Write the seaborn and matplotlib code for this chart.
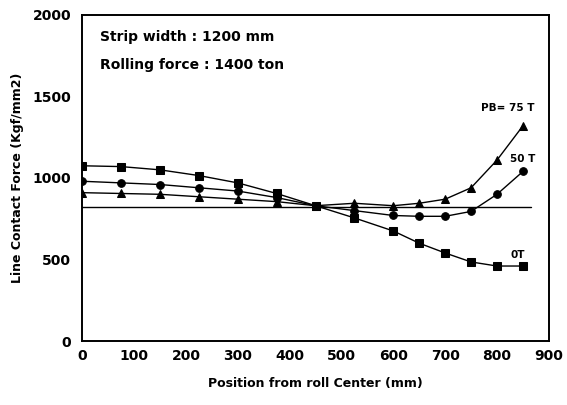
import matplotlib
matplotlib.use("Agg")
import matplotlib.pyplot as plt
import pandas as pd
import seaborn as sns

# position from roll center [mm]
position = [0, 75, 150, 225, 300, 375, 450, 525, 600, 650, 700, 750, 800, 850]
# line contact force [kgf/mm] for each bending force
pb_0t = [1075, 1070, 1050, 1015, 970, 905, 830, 755, 675, 600, 540, 485, 460, 460]
pb_50t = [980, 970, 960, 940, 920, 880, 830, 800, 770, 765, 765, 795, 900, 1040]
pb_75t = [910, 905, 900, 885, 870, 855, 830, 845, 830, 845, 870, 940, 1110, 1320]
series_names = ["0T", "50T", "75T"]
# flat reference line (uniform load)
ref_x = [0, 865]
ref_y = [820, 820]

x_ticks = [0, 100, 200, 300, 400, 500, 600, 700, 800, 900]
y_ticks = [0, 500, 1000, 1500, 2000]

df = pd.DataFrame({
    "position": position * 3,
    "force": pb_0t + pb_50t + pb_75t,
    "pb": [s for s in series_names for _ in position],
})

sns.set_style("white")
plt.rcParams["font.family"] = ["DejaVu Sans"]
plt.rcParams["text.color"] = "black"
plt.rcParams["axes.labelcolor"] = "black"
plt.rcParams["xtick.color"] = "black"
plt.rcParams["ytick.color"] = "black"

fig = plt.figure(figsize=(5.67, 4.05), dpi=100)
ax = fig.add_axes([0.145, 0.158, 0.823, 0.805])

sns.lineplot(data=df, x="position", y="force", hue="pb", style="pb",
             palette={k: "black" for k in series_names},
             markers={"0T": "s", "50T": "o", "75T": "^"},
             dashes=False, markersize=5.5, linewidth=1.0,
             markeredgecolor="black", legend=False, ax=ax)
sns.lineplot(x=ref_x, y=ref_y, color="black", linewidth=1.0, ax=ax)

ax.set_xlim(0, 895)
ax.set_ylim(0, 2000)
ax.set_xticks(x_ticks)
ax.set_yticks(y_ticks)
ax.tick_params(axis="x", direction="in", length=5, width=1.2, pad=6,
               labelsize=10)
ax.tick_params(axis="y", direction="out", length=6, width=1.2, pad=2,
               labelsize=10)
for lab in ax.get_xticklabels() + ax.get_yticklabels():
    lab.set_fontweight("bold")
for sp in ax.spines.values():
    sp.set_color("black")
    sp.set_linewidth(1.4)

cond = dict(family="DejaVu Sans", fontweight="bold")
ax.text(35, 1865, "Strip width : 1200 mm", fontsize=10,
        ha="left", va="center", **cond)
ax.text(35, 1695, "Rolling force : 1400 ton", fontsize=10,
        ha="left", va="center", **cond)

ax.text(820, 1430, "PB= 75 T", fontsize=7.5, fontweight="bold", ha="center", va="center")
ax.text(850, 1115, "50 T", fontsize=7.5, fontweight="bold", ha="center", va="center")
ax.text(840, 525, "0T", fontsize=7.5, fontweight="bold", ha="center", va="center")

ax.set_xlabel("Position from roll Center (mm)", fontsize=9,
              labelpad=10, **cond)
ax.set_ylabel("Line Contact Force (Kgf/mm2)", fontsize=9,
              labelpad=6, **cond)

fig.savefig("out.png", dpi=100)
